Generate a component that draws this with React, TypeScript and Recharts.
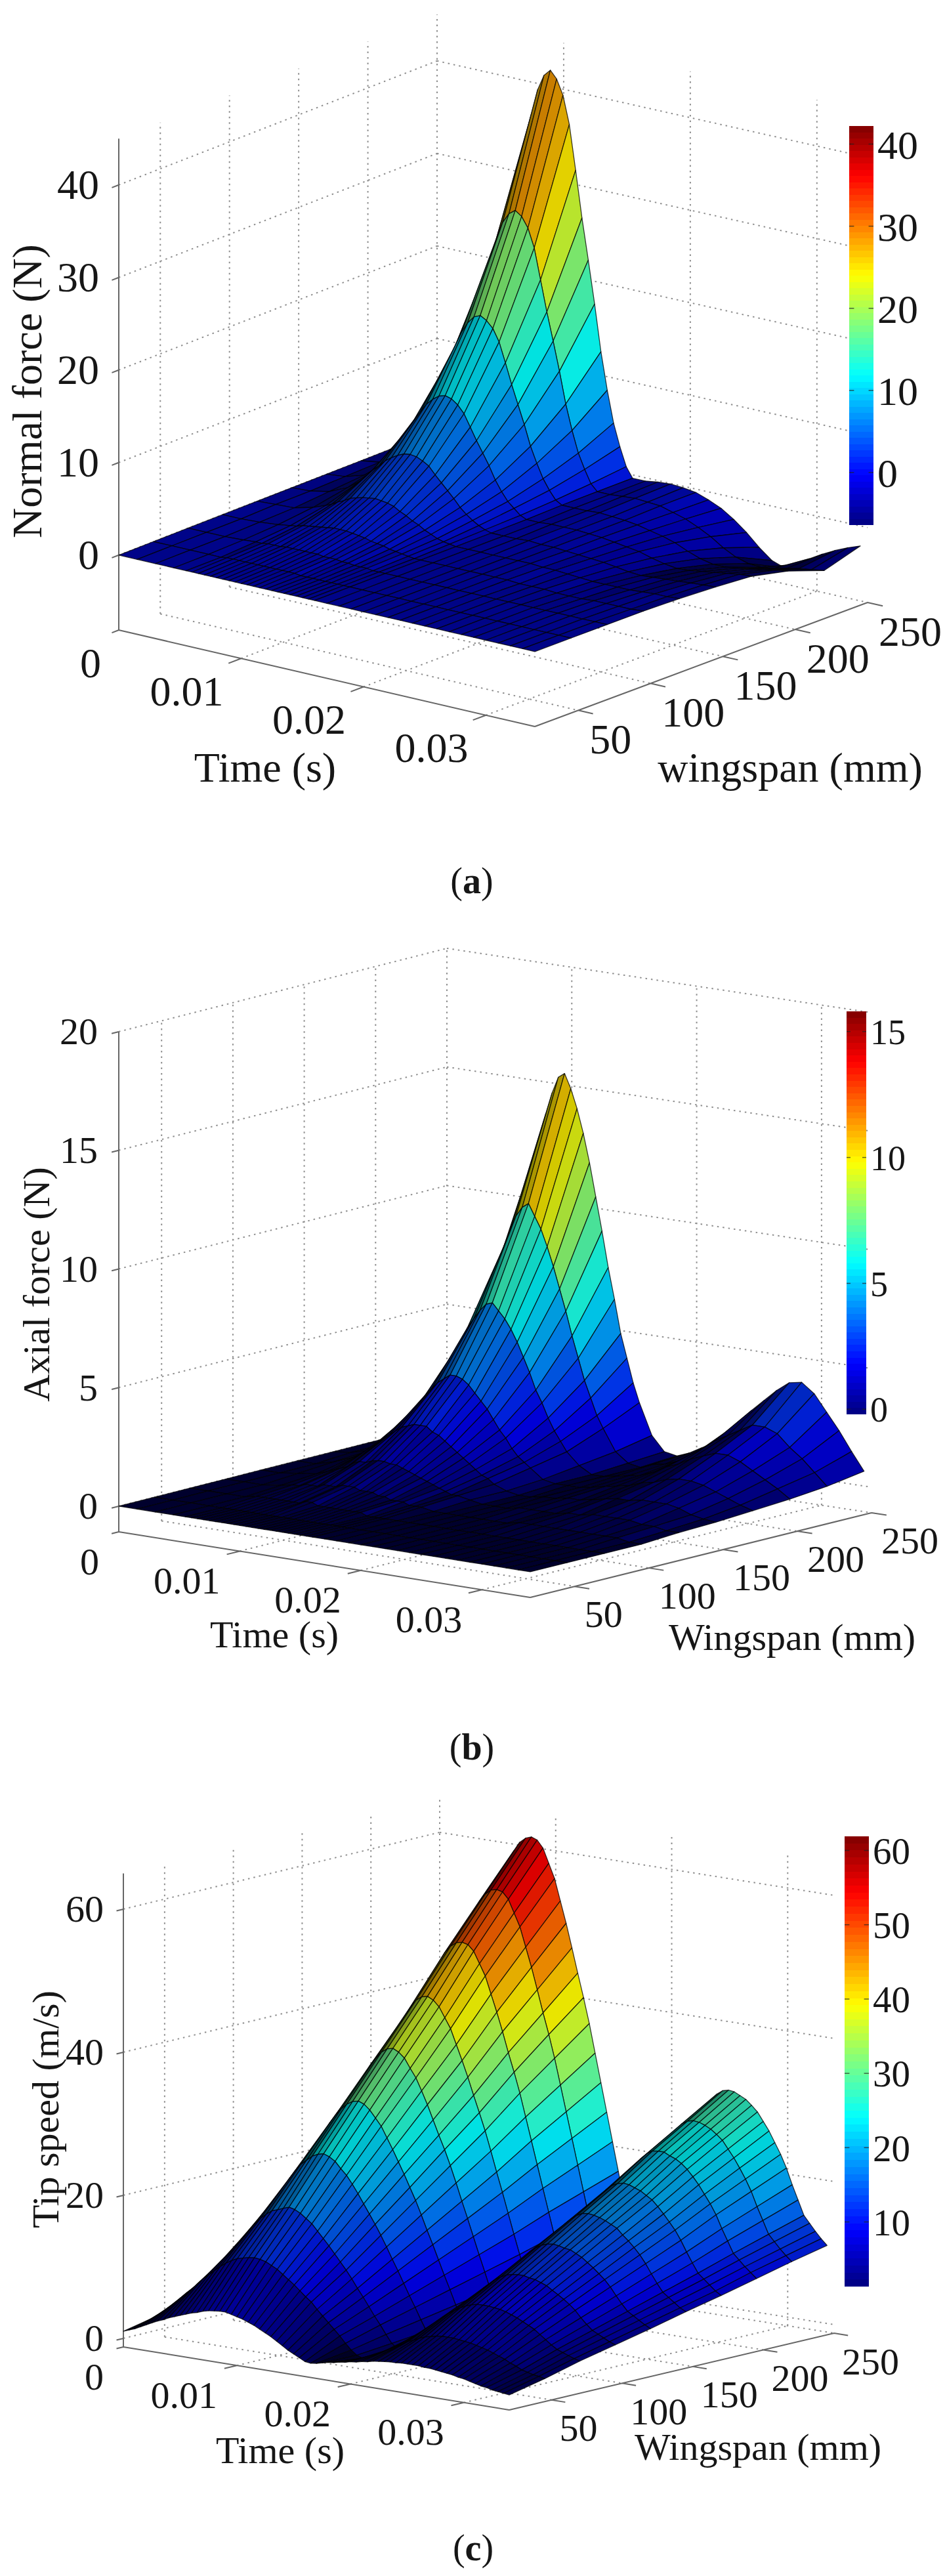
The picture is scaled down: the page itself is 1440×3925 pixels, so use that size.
import { ComposedChart, ReferenceArea, ReferenceLine, Scatter, ScatterChart, XAxis, YAxis } from 'recharts'

// wingspan of each mesh row (mm)
const wingspans = [20, 45, 70, 95, 120, 145, 170, 195, 220, 245]

const timesForce = [0, .0015, .003, .0045, .0055, .006, .0065, .007, .0075, .008, .0085, .009, .0095, .01, .0105, .011, .0115, .012, .0125, .013, .0135, .014, .0145, .015, .0155, .016, .017, .018, .019, .02, .021, .022, .023, .024, .025, .026, .027, .028, .029, .03, .031, .032, .033, .034]
const timesSpeed = [0, .0005, .001, .0015, .002, .0025, .003, .0035, .004, .0045, .005, .0055, .006, .0065, .007, .0075, .008, .0085, .009, .0095, .01, .0105, .011, .0115, .012, .0125, .013, .0135, .014, .0145, .015, .0155, .016, .0165, .017, .0175, .018, .0185, .019, .0195, .02, .0205, .021, .0215, .022, .0225, .023, .0235, .024, .0245, .025, .0255, .026, .0265, .027, .0275, .028, .0285, .029, .0295, .03, .0305, .031, .0315, .032, .0325, .033, .0335, .034]

const normalForce = [
  [0, 0, 0, 0, 0, 0, 0, 0, 0, 0, 0, 0, 0, 0, 0, 0, 0, 0, 0, 0, 0, 0, 0, 0, 0, 0, 0, 0, 0, 0, 0, 0, 0, 0, 0, 0, 0, 0, 0, 0, 0, 0, 0, 0],
  [0, 0, 0, 0, 0, .1, .1, .1, .1, .1, .1, .1, .1, .1, .1, .1, .1, 0, 0, 0, 0, 0, 0, 0, 0, 0, 0, 0, 0, 0, 0, 0, 0, 0, 0, 0, 0, 0, 0, 0, 0, 0, 0, 0],
  [0, 0, 0, .1, .2, .2, .3, .3, .3, .4, .4, .4, .4, .4, .4, .3, .3, .3, .2, .2, .1, .1, .1, 0, 0, 0, 0, 0, 0, 0, 0, 0, 0, 0, 0, 0, 0, 0, 0, 0, 0, 0, 0, 0],
  [0, 0, .1, .3, .5, .6, .8, .9, 1, 1.1, 1.2, 1.3, 1.3, 1.3, 1.2, 1.1, 1, .8, .7, .6, .4, .3, .2, .1, 0, 0, 0, 0, 0, 0, 0, 0, 0, -.1, -.1, -.1, -.2, -.2, -.2, -.1, -.1, -.1, -.1, 0],
  [0, .1, .2, .7, 1.2, 1.5, 1.9, 2.2, 2.6, 2.8, 3, 3.1, 3.2, 3.1, 3, 2.8, 2.4, 2.1, 1.7, 1.4, 1, .7, .4, .2, .1, 0, 0, 0, 0, 0, 0, 0, -.1, -.1, -.2, -.3, -.4, -.4, -.4, -.4, -.3, -.2, -.2, -.1],
  [0, .1, .5, 1.4, 2.4, 3.1, 3.9, 4.5, 5.2, 5.7, 6.1, 6.4, 6.5, 6.4, 6.1, 5.7, 4.9, 4.2, 3.5, 2.8, 2, 1.4, .9, .5, .2, 0, 0, 0, .1, 0, 0, -.1, -.2, -.3, -.4, -.6, -.8, -.9, -.8, -.7, -.6, -.5, -.4, -.3],
  [0, .2, .8, 2.4, 4.2, 5.4, 6.8, 8, 9, 10, 10.7, 11.2, 11.4, 11.2, 10.7, 9.9, 8.6, 7.3, 6.1, 4.9, 3.5, 2.4, 1.5, .9, .3, 0, 0, .1, .1, .1, 0, -.1, -.3, -.5, -.7, -1.1, -1.4, -1.6, -1.5, -1.3, -1.1, -.9, -.7, -.6],
  [0, .3, 1.3, 4, 6.8, 8.8, 11, 13, 14.7, 16.3, 17.5, 18.3, 18.6, 18.2, 17.5, 16.2, 14.1, 11.9, 9.9, 7.9, 5.7, 4, 2.5, 1.4, .5, .1, .1, .1, .2, .1, 0, -.2, -.5, -.8, -1.2, -1.8, -2.3, -2.6, -2.6, -2.4, -2.2, -2, -1.7, -1.5],
  [0, .4, 2, 6, 10.5, 13.5, 16.9, 20, 22.6, 25, 26.9, 28, 28.5, 28, 26.9, 24.9, 21.6, 18.3, 15.3, 12.2, 8.8, 6.1, 3.8, 2.2, .8, .1, .1, .2, .3, .2, .1, -.3, -.7, -1.3, -2, -2.9, -3.6, -4, -4.1, -3.9, -3.6, -3.3, -3.1, -2.9],
  [0, .6, 3, 9, 15.5, 20, 25, 29.5, 33.5, 37, 39.8, 41.5, 42.2, 41.4, 39.8, 36.8, 32, 27, 22.6, 18, 13, 9, 5.6, 3.2, 1.2, .1, .1, .3, .4, .3, .1, -.4, -1, -1.9, -3, -4.3, -5.4, -5.9, -5.2, -4.3, -3.5, -2.8, -2.2, -1.7],
]

const axialForce = [
  [0, 0, 0, 0, 0, 0, 0, 0, 0, 0, 0, 0, 0, 0, 0, 0, 0, 0, 0, 0, 0, 0, 0, 0, 0, 0, 0, 0, 0, 0, 0, 0, 0, 0, 0, 0, 0, 0, 0, 0, 0, 0, 0, 0],
  [0, 0, 0, 0, 0, 0, 0, 0, 0, 0, 0, 0, 0, 0, 0, 0, 0, 0, 0, 0, 0, 0, 0, 0, 0, 0, 0, 0, 0, 0, 0, 0, 0, 0, 0, 0, 0, 0, 0, 0, 0, 0, 0, 0],
  [0, 0, 0, 0, .1, .1, .1, .1, .1, .1, .1, .1, .2, .2, .1, .1, .1, .1, .1, .1, .1, .1, 0, 0, 0, 0, 0, 0, 0, 0, 0, 0, 0, 0, 0, 0, 0, 0, 0, 0, 0, 0, 0, 0],
  [0, 0, 0, .1, .2, .2, .3, .3, .3, .4, .4, .4, .5, .5, .5, .4, .4, .4, .3, .3, .2, .2, .2, .1, .1, .1, 0, 0, 0, 0, 0, 0, 0, .1, .1, .1, .1, .1, .1, .1, .1, .1, 0, 0],
  [0, 0, .1, .2, .4, .5, .6, .7, .9, 1, 1, 1.1, 1.16, 1.16, 1.1, 1.1, 1, .9, .8, .7, .6, .5, .4, .3, .2, .2, .1, 0, 0, 0, .1, .1, .1, .1, .2, .2, .3, .3, .3, .3, .2, .2, .1, .1],
  [0, 0, .2, .5, .8, 1, 1.3, 1.5, 1.7, 1.9, 2.1, 2.2, 2.3, 2.3, 2.3, 2.1, 2, 1.8, 1.6, 1.4, 1.2, 1, .8, .6, .5, .3, .1, 0, 0, .1, .1, .2, .2, .3, .4, .5, .5, .6, .6, .6, .5, .3, .2, .15],
  [0, .1, .3, .8, 1.4, 1.8, 2.2, 2.6, 3, 3.3, 3.6, 3.8, 4, 4, 3.9, 3.7, 3.4, 3.1, 2.8, 2.4, 2, 1.7, 1.3, 1, .8, .6, .2, .1, .1, .1, .2, .3, .4, .5, .7, .8, 1, 1.1, 1.1, 1, .8, .6, .4, .25],
  [0, .1, .4, 1.3, 2.3, 2.9, 3.6, 4.3, 4.9, 5.5, 5.9, 6.3, 6.6, 6.7, 6.4, 6.1, 5.7, 5.2, 4.6, 4, 3.3, 2.8, 2.2, 1.7, 1.3, .9, .4, .1, .1, .2, .3, .4, .6, .9, 1.1, 1.4, 1.6, 1.8, 1.8, 1.6, 1.3, 1, .7, .35],
  [0, .1, .7, 2, 3.6, 4.6, 5.6, 6.7, 7.6, 8.5, 9.2, 9.9, 10.3, 10.5, 10, 9.5, 8.8, 8, 7.1, 6.2, 5.2, 4.3, 3.4, 2.7, 2, 1.5, .6, .2, .1, .3, .4, .6, .9, 1.3, 1.7, 2, 2.3, 2.6, 2.6, 2.4, 1.9, 1.5, 1, .5],
  [0, .2, 1, 3, 5.3, 6.8, 8.4, 10, 11.4, 12.7, 13.8, 14.7, 15.4, 15.6, 15, 14.2, 13.2, 12, 10.6, 9.2, 7.7, 6.4, 5, 4, 3, 2.2, .9, .3, .2, .4, .7, 1, 1.4, 2, 2.6, 3.1, 3.6, 4, 4.1, 3.7, 3, 2.3, 1.5, .75],
]

const tipSpeed = [
  [1, 1.3, 1.6, 2, 2.4, 2.8, 3.2, 3.5, 3.9, 4.2, 4.5, 4.8, 5.1, 5.3, 5.6, 5.8, 5.9, 6, 6, 5.8, 5.6, 5.4, 5.1, 4.8, 4.4, 4, 3.6, 3.1, 2.6, 2.1, 1.7, 1.3, .9, .8, .9, 1.1, 1.3, 1.4, 1.6, 1.7, 1.9, 2, 2.2, 2.3, 2.5, 2.6, 2.7, 2.8, 2.8, 2.9, 2.9, 2.9, 2.9, 2.8, 2.8, 2.7, 2.6, 2.5, 2.4, 2.2, 2.1, 1.9, 1.7, 1.5, 1.4, 1.2, 1.1, 1, .9],
  [2, 2.6, 3.4, 4.2, 5, 5.8, 6.5, 7.4, 8.2, 8.9, 9.6, 10.3, 10.9, 11.4, 11.8, 12, 12.2, 12.3, 12.2, 12, 11.6, 11.2, 10.6, 10, 9.4, 8.7, 8, 7.4, 6.5, 5.7, 4.9, 4.1, 3.3, 2.4, 1.6, 1, .7, .9, 1.3, 1.8, 2.3, 2.7, 3.2, 3.6, 4.1, 4.4, 4.8, 5.1, 5.3, 5.5, 5.6, 5.6, 5.6, 5.5, 5.4, 5.3, 5.1, 4.9, 4.7, 4.4, 4.1, 3.8, 3.4, 3.1, 2.7, 2.5, 2.3, 2.2, 2],
  [2.9, 3.8, 4.9, 6.1, 7.3, 8.4, 9.6, 10.7, 11.9, 13.1, 14.1, 15.1, 16, 16.7, 17.3, 17.6, 17.9, 18.2, 18, 17.6, 17, 16.4, 15.5, 14.6, 13.7, 12.7, 11.7, 10.7, 9.6, 8.4, 7.3, 6.1, 4.9, 3.8, 2.6, 1.5, .9, 1.3, 2, 2.8, 3.5, 4.2, 4.9, 5.7, 6.4, 7, 7.5, 8, 8.4, 8.7, 8.9, 8.9, 8.9, 8.8, 8.7, 8.5, 8.2, 7.9, 7.5, 7.1, 6.7, 6.1, 5.5, 4.9, 4.4, 4.1, 3.8, 3.5, 3.3],
  [3.9, 5.1, 6.6, 8.2, 9.8, 11.3, 12.9, 14.4, 16, 17.6, 18.9, 20.3, 21.5, 22.5, 23.2, 23.9, 24.3, 24.5, 24.2, 23.7, 22.8, 22, 20.9, 19.7, 18.4, 17.1, 15.8, 14.4, 12.9, 11.3, 9.8, 8.2, 6.6, 5.1, 3.5, 2, 1.2, 1.8, 2.7, 3.7, 4.7, 5.7, 6.6, 7.6, 8.6, 9.4, 10.1, 10.8, 11.3, 11.7, 11.9, 12, 12, 11.8, 11.7, 11.4, 11.1, 10.6, 10.1, 9.6, 9, 8.3, 7.4, 6.6, 5.9, 5.5, 5.1, 4.7, 4.4],
  [4.9, 6.4, 8.3, 10.3, 12.3, 14.2, 16.2, 18.1, 20.1, 22.1, 23.8, 25.5, 27, 28.2, 29.2, 30, 30.5, 30.7, 30.4, 29.7, 28.7, 27.7, 26.2, 24.7, 23.1, 21.5, 19.8, 18.1, 16.2, 14.2, 12.3, 10.3, 8.3, 6.4, 4.4, 2.5, 1.5, 2.2, 3.4, 4.7, 5.9, 7.1, 8.3, 9.6, 10.8, 11.8, 12.7, 13.6, 14.2, 14.7, 15, 15.1, 15, 14.8, 14.7, 14.3, 13.9, 13.3, 12.7, 12, 11.3, 10.4, 9.3, 8.3, 7.4, 6.9, 6.4, 5.9, 5.5],
  [5.9, 7.7, 10, 12.4, 14.8, 17.1, 19.5, 21.8, 24.2, 26.6, 28.6, 30.7, 32.5, 34, 35.1, 36.1, 36.7, 36.9, 36.5, 35.8, 34.5, 33.3, 31.6, 29.8, 27.8, 25.8, 23.9, 21.8, 19.5, 17.1, 14.8, 12.4, 10, 7.7, 5.3, 3, 1.8, 2.7, 4.1, 5.6, 7.1, 8.6, 10, 11.5, 13, 14.2, 15.3, 16.3, 17.1, 17.7, 18.1, 18.2, 18.1, 17.9, 17.6, 17.2, 16.8, 16, 15.3, 14.5, 13.6, 12.5, 11.2, 10, 8.9, 8.3, 7.7, 7.1, 6.7],
  [6.9, 9, 11.7, 14.5, 17.3, 20, 22.8, 25.5, 28.3, 31, 33.5, 35.9, 38, 39.7, 41.1, 42.2, 42.8, 43, 42.6, 41.8, 40.4, 39, 36.9, 34.8, 32.6, 30.2, 27.9, 25.5, 22.8, 20, 17.3, 14.5, 11.7, 9, 6.2, 3.5, 2.1, 3.1, 4.8, 6.6, 8.3, 10, 11.7, 13.5, 15.2, 16.6, 17.9, 19.1, 20, 20.7, 21.1, 21.3, 21.2, 20.9, 20.6, 20.1, 19.6, 18.8, 17.9, 16.9, 15.9, 14.6, 13.1, 11.7, 10.4, 9.7, 9, 8.3, 7.8],
  [8, 10.4, 13.6, 16.8, 20, 23.2, 26.4, 29.6, 32.8, 36, 38.8, 41.6, 44, 46.1, 47.6, 48.6, 49.2, 49.4, 49.2, 48.4, 46.8, 45.2, 42.8, 40.4, 37.8, 35, 32.4, 29.6, 26.4, 23.2, 20, 16.8, 13.6, 10.4, 7.2, 4, 2.4, 3.6, 5.6, 7.6, 9.6, 11.6, 13.6, 15.6, 17.6, 19.2, 20.8, 22.2, 23.2, 24, 24.5, 24.6, 24.6, 24.2, 23.9, 23.4, 22.7, 21.8, 20.8, 19.6, 18.4, 17, 15.2, 13.6, 12, 11.2, 10.4, 9.7, 9],
  [9, 11.7, 15.3, 18.9, 22.5, 26.1, 29.7, 33.3, 36.9, 40.5, 43.7, 46.8, 49.5, 51.8, 53.6, 54.7, 55.4, 55.6, 55.4, 54.5, 52.7, 50.9, 48.2, 45.5, 42.5, 39.4, 36.5, 33.3, 29.7, 26.1, 22.5, 18.9, 15.3, 11.7, 8.1, 4.5, 2.7, 4.1, 6.3, 8.6, 10.8, 13.1, 15.3, 17.6, 19.8, 21.6, 23.4, 24.9, 26.1, 27, 27.5, 27.7, 27.6, 27.3, 26.9, 26.3, 25.6, 24.5, 23.4, 22.1, 20.7, 19.1, 17.1, 15.3, 13.5, 12.6, 11.7, 10.9, 10.2],
  [10, 13, 17, 21, 25, 29, 33, 37, 41, 45, 48.5, 52, 55, 57.6, 59.5, 60.8, 61.5, 61.8, 61.5, 60.5, 58.5, 56.5, 53.5, 50.5, 47.2, 43.8, 40.5, 37, 33, 29, 25, 21, 17, 13, 9, 5, 3, 4.5, 7, 9.5, 12, 14.5, 17, 19.5, 22, 24, 26, 27.7, 29, 30, 30.6, 30.8, 30.7, 30.3, 29.9, 29.2, 28.4, 27.2, 26, 24.5, 23, 21.2, 19, 17, 15, 14, 13, 12.1, 11.3],
]

const timeTicks = [0, 0.01, 0.02, 0.03]
const spanTicks = [50, 100, 150, 200, 250]

const PAGE_W = 1440
const PAGE_H = 3925
const FONT = '"Liberation Serif", "Times New Roman", serif'
const T_MAX = 0.034
const S_MIN = 20
const S_MAX = 250
const ORIGINAL_DT = 0.0003 // spacing of the mesh in the source figure, used for its dark look

const panels = [
  {
    name: 'a', times: timesForce, rows: normalForce,
    L: [181, 960], F: [815, 1107], B: [666, 771], R: [1322, 918],
    zFloor: -8.1, zTop: 45, zPx: 14.1, zTicks: [0, 10, 20, 30, 40],
    font: 64, zLabelDx: -30, tOff: [-27, 50], sOff: [17, 44],
    zTitle: 'Normal force (N)', zTitlePos: [41, 596], timePos: [404, 1169],
    spanTitle: 'wingspan (mm)', spanPos: [1204, 1169], caption: [719, 1342],
    bar: { left: 1294, top: 192, w: 37, h: 608, min: -6.4, max: 42.2, ticks: [0, 10, 20, 30, 40], font: 62 },
  },
  {
    name: 'b', times: timesForce, rows: axialForce,
    L: [181, 2334], F: [808, 2434], B: [681, 2207], R: [1328, 2305],
    zFloor: -1.08, zTop: 20, zPx: 36.15, zTicks: [0, 5, 10, 15, 20],
    font: 58, zLabelDx: -32, tOff: [-30, 45], sOff: [15, 42],
    zTitle: 'Axial force (N)', zTitlePos: [55, 1957], timePos: [418, 2490],
    spanTitle: 'Wingspan (mm)', spanPos: [1207, 2494], caption: [719, 2662],
    bar: { left: 1290, top: 1541, w: 30, h: 614, min: -0.2, max: 15.8, ticks: [0, 5, 10, 15], font: 54 },
  },
  {
    name: 'c', times: timesSpeed, rows: tipSpeed,
    L: [188, 3576], F: [776, 3672], B: [670, 3459], R: [1271, 3555],
    zFloor: -1.2, zTop: 65, zPx: 10.9, zTicks: [0, 20, 40, 60],
    font: 58, zLabelDx: -30, tOff: [-30, 45], sOff: [12, 43],
    zTitle: 'Tip speed (m/s)', zTitlePos: [69, 3214], timePos: [427, 3733],
    spanTitle: 'Wingspan (mm)', spanPos: [1155, 3728], caption: [721, 3882],
    bar: { left: 1287, top: 2798, w: 37, h: 686, min: 1.3, max: 61.9, ticks: [10, 20, 30, 40, 50, 60], font: 57 },
  },
]

type Panel = (typeof panels)[number]

// floor is a bilinear patch between the four box corners, z lifts straight up
function project(p: Panel, t: number, s: number, z: number) {
  const u = t / T_MAX
  const v = (s - S_MIN) / (S_MAX - S_MIN)
  const at = (k: number) =>
    (1 - v) * ((1 - u) * p.L[k] + u * p.F[k]) + v * ((1 - u) * p.B[k] + u * p.R[k])
  return { x: at(0), y: at(1) - (z - p.zFloor) * p.zPx }
}

function jet(x: number) {
  const c = (v: number) => Math.max(0, Math.min(1, v))
  return [c(1.5 - Math.abs(4 * x - 3)), c(1.5 - Math.abs(4 * x - 2)), c(1.5 - Math.abs(4 * x - 1))]
}

const rgb = (c: number[], k = 1) =>
  `rgb(${Math.round(c[0] * 255 * k)},${Math.round(c[1] * 255 * k)},${Math.round(c[2] * 255 * k)})`

function surfacePoints(p: Panel) {
  return p.rows.flatMap((row, i) => row.map((z, j) => project(p, p.times[j], wingspans[i], z)))
}

function SurfaceMesh(p: Panel) {
  const nT = p.times.length
  return (props: any) => {
    const pts = props.points
    const out: any[] = []
    // painter's order: far wingspan first, early time first
    for (let i = p.rows.length - 2; i >= 0; i--) {
      for (let j = 0; j < nT - 1; j++) {
        const a = pts[i * nT + j]
        const b = pts[i * nT + j + 1]
        const c = pts[(i + 1) * nT + j + 1]
        const d = pts[(i + 1) * nT + j]
        // flat shading like MATLAB surf: a face takes the colour of its first corner
        const x = (p.rows[i][j] - p.bar.min) / (p.bar.max - p.bar.min)
        const ax = b.x - a.x
        const ay = b.y - a.y
        const bx = d.x - a.x
        const by = d.y - a.y
        const cross = Math.abs(ax * by - ay * bx) / (Math.hypot(bx, by) || 1)
        const spacing = (cross * ORIGINAL_DT) / (p.times[j + 1] - p.times[j])
        const shade = 1 - Math.min(0.7, 1.5 / (spacing || 1))
        out.push(
          <polygon
            key={`${i}-${j}`}
            points={`${a.x},${a.y} ${b.x},${b.y} ${c.x},${c.y} ${d.x},${d.y}`}
            fill={rgb(jet(x), shade)}
            stroke="#000"
            strokeOpacity={0.75}
            strokeWidth={1.3}
            strokeLinejoin="round"
          />,
        )
      }
    }
    return <g>{out}</g>
  }
}

function gridPoints(p: Panel) {
  const seg: { x: number; y: number }[] = []
  const add = (a: number[], b: number[]) => {
    seg.push(project(p, a[0], a[1], a[2]), project(p, b[0], b[1], b[2]))
  }
  timeTicks.slice(1).forEach((t) => {
    add([t, S_MIN, p.zFloor], [t, S_MAX, p.zFloor])
    add([t, S_MAX, p.zFloor], [t, S_MAX, p.zTop])
  })
  spanTicks.forEach((s) => {
    add([0, s, p.zFloor], [T_MAX, s, p.zFloor])
    add([0, s, p.zFloor], [0, s, p.zTop])
  })
  add([0, S_MAX, p.zFloor], [0, S_MAX, p.zTop])
  p.zTicks.forEach((z) => {
    add([0, S_MIN, z], [0, S_MAX, z])
    add([0, S_MAX, z], [T_MAX, S_MAX, z])
  })
  return seg
}

function axisPoints(p: Panel) {
  const seg: { x: number; y: number }[] = []
  const add = (a: number[], b: number[]) => {
    seg.push(project(p, a[0], a[1], a[2]), project(p, b[0], b[1], b[2]))
  }
  add([0, S_MIN, p.zFloor], [0, S_MIN, p.zTop])
  add([0, S_MIN, p.zFloor], [T_MAX, S_MIN, p.zFloor])
  add([T_MAX, S_MIN, p.zFloor], [T_MAX, S_MAX, p.zFloor])
  timeTicks.slice(1).forEach((t) => add([t, S_MIN, p.zFloor], [t, S_MIN - 9, p.zFloor]))
  spanTicks.forEach((s) => add([T_MAX, s, p.zFloor], [T_MAX + 0.0012, s, p.zFloor]))
  p.zTicks.forEach((z) => add([0, S_MIN, z], [0, S_MIN - 5, z]))
  add([0, S_MIN, p.zFloor], [0, S_MIN - 5, p.zFloor])
  return seg
}

function labelPoints(p: Panel) {
  const out: any[] = []
  p.zTicks.forEach((z) => {
    const q = project(p, 0, S_MIN, z)
    out.push({ x: q.x + p.zLabelDx, y: q.y, label: String(z), anchor: 'end', size: p.font })
  })
  timeTicks.forEach((t) => {
    const q = project(p, t, S_MIN, p.zFloor)
    out.push({ x: q.x + p.tOff[0], y: q.y + p.tOff[1], label: String(t), anchor: 'end', size: p.font })
  })
  spanTicks.forEach((s) => {
    const q = project(p, T_MAX, s, p.zFloor)
    out.push({ x: q.x + p.sOff[0], y: q.y + p.sOff[1], label: String(s), anchor: 'start', size: p.font })
  })
  out.push({ x: p.timePos[0], y: p.timePos[1], label: 'Time (s)', anchor: 'middle', size: p.font })
  out.push({ x: p.spanPos[0], y: p.spanPos[1], label: p.spanTitle, anchor: 'middle', size: p.font })
  out.push({ x: p.zTitlePos[0], y: p.zTitlePos[1], label: p.zTitle, anchor: 'middle', size: p.font, rotate: true })
  out.push({ x: p.caption[0], y: p.caption[1], label: p.name, anchor: 'middle', size: 56, caption: true })
  return out
}

const noDot = () => null

function segments(stroke: string, width: number, dash?: string) {
  return (props: any) => (
    <path
      d={props.points
        .map((q: any, i: number) => `${i % 2 ? 'L' : 'M'}${q.x} ${q.y}`)
        .join('')}
      fill="none"
      stroke={stroke}
      strokeWidth={width}
      strokeDasharray={dash}
    />
  )
}

function TextMark(props: any) {
  const d = props.payload
  return (
    <text
      x={props.cx}
      y={props.cy}
      textAnchor={d.anchor}
      dominantBaseline="central"
      fontFamily={FONT}
      fontSize={d.size}
      fill="#161616"
      transform={d.rotate ? `rotate(-90 ${props.cx} ${props.cy})` : undefined}
    >
      {d.caption ? (
        <>
          (<tspan fontWeight="bold">{d.label}</tspan>)
        </>
      ) : (
        d.label
      )}
    </text>
  )
}

function ColorBar({ bar }: { bar: Panel['bar'] }) {
  const levels = Array.from({ length: 64 }, (_, i) => i)
  const step = (bar.max - bar.min) / 64
  const pad = 40
  return (
    <div style={{ position: 'absolute', left: bar.left, top: bar.top - pad }}>
      <ComposedChart
        width={bar.w + 90}
        height={bar.h + pad * 2}
        margin={{ top: pad, bottom: pad, left: 0, right: 0 }}
        data={[{ v: 0 }]}
      >
        <XAxis type="number" dataKey="v" domain={[0, 1]} hide />
        <YAxis
          orientation="right"
          type="number"
          width={90}
          domain={[bar.min, bar.max]}
          ticks={bar.ticks}
          interval={0}
          axisLine={false}
          tickSize={0}
          tickMargin={6}
          tickLine={false}
          allowDataOverflow
          tick={{ fontFamily: FONT, fontSize: bar.font, fill: '#161616', textAnchor: 'start' }}
        />
        {levels.map((i) => (
          <ReferenceArea
            key={i}
            x1={0}
            x2={1}
            y1={bar.min + i * step}
            y2={bar.min + (i + 1) * step}
            fill={rgb(jet((i + 0.5) / 64))}
            fillOpacity={1}
            stroke="none"
            shapeRendering="crispEdges"
          />
        ))}
        {/* MATLAB draws the colorbar ticks inside the bar, on both edges */}
        {bar.ticks.map((y) => (
          <ReferenceLine key={`l${y}`} segment={[{ x: 0, y }, { x: 0.2, y }]} stroke="#222" strokeOpacity={0.7} strokeWidth={1.5} />
        ))}
        {bar.ticks.map((y) => (
          <ReferenceLine key={`r${y}`} segment={[{ x: 0.8, y }, { x: 1, y }]} stroke="#222" strokeOpacity={0.7} strokeWidth={1.5} />
        ))}
      </ComposedChart>
    </div>
  )
}

export default function App() {
  return (
    <div style={{ position: 'absolute', left: 0, top: 0, width: PAGE_W, height: PAGE_H, background: '#fff', overflow: 'hidden' }}>
      <ScatterChart width={PAGE_W} height={PAGE_H} margin={{ top: 0, right: 0, bottom: 0, left: 0 }}>
        <XAxis type="number" dataKey="x" domain={[0, PAGE_W]} hide allowDataOverflow />
        <YAxis type="number" dataKey="y" domain={[0, PAGE_H]} reversed hide allowDataOverflow />
        {panels.map((p) => (
          <Scatter key={`g${p.name}`} data={gridPoints(p)} shape={noDot} line={segments('#8f8f8f', 2, '2.5 6')} isAnimationActive={false} />
        ))}
        {panels.map((p) => (
          <Scatter key={`a${p.name}`} data={axisPoints(p)} shape={noDot} line={segments('#666', 2)} isAnimationActive={false} />
        ))}
        {panels.map((p) => (
          <Scatter key={`s${p.name}`} data={surfacePoints(p)} shape={noDot} line={SurfaceMesh(p)} isAnimationActive={false} />
        ))}
        {panels.map((p) => (
          <Scatter key={`t${p.name}`} data={labelPoints(p)} shape={TextMark} isAnimationActive={false} />
        ))}
      </ScatterChart>
      {panels.map((p) => (
        <ColorBar key={p.name} bar={p.bar} />
      ))}
    </div>
  )
}
